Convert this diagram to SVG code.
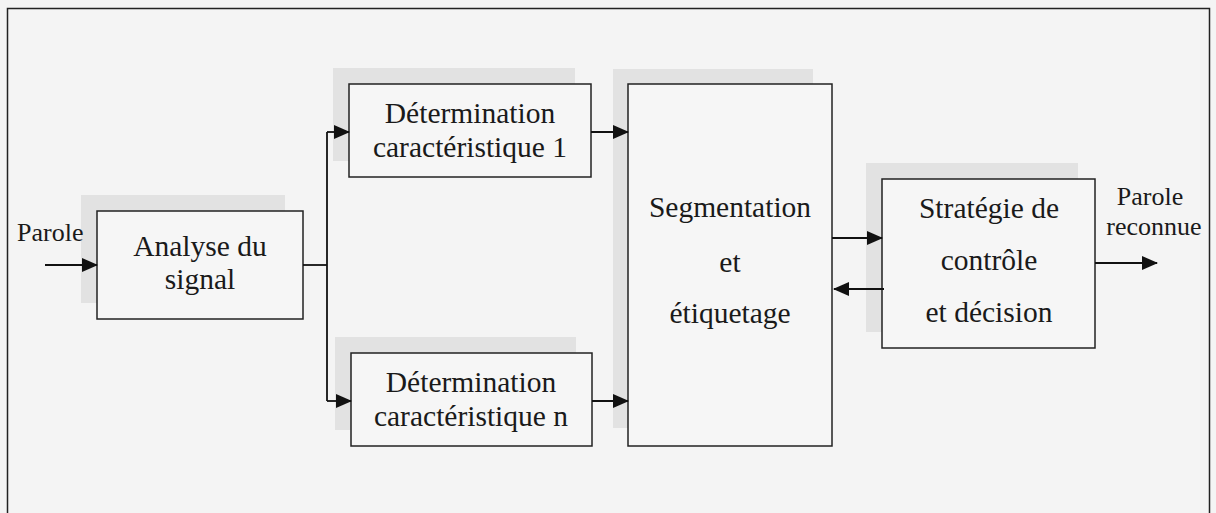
<svg xmlns="http://www.w3.org/2000/svg" width="1216" height="513" viewBox="0 0 1216 513">
<defs>
<marker id="ah" markerUnits="userSpaceOnUse" markerWidth="16" markerHeight="14" refX="15" refY="7" orient="auto">
<path d="M0,0 L16,7 L0,14 z" fill="#111"/>
</marker>
<style>
.box{fill:#f6f6f6;stroke:#222;stroke-width:1.5}
.sh{fill:#e2e2e2}
.t{font-family:"Liberation Serif","Times New Roman",serif;font-size:29.5px;fill:#1a1a1a;text-anchor:middle}
.lab{font-family:"Liberation Serif","Times New Roman",serif;font-size:26px;fill:#1a1a1a}
.c{fill:none;stroke:#111;stroke-width:1.8}
</style>
</defs>
<rect x="0" y="0" width="1216" height="513" fill="#f4f4f4"/>
<path d="M7.5,520 V8.5 H1209.5 V520" fill="none" stroke="#222" stroke-width="1.5"/>

<g id="analyse">
<rect class="sh" x="81" y="195" width="204" height="108"/>
<rect class="box" x="97" y="211" width="206" height="108"/>
<text class="t" x="200" y="256">Analyse du</text>
<text class="t" x="200" y="289">signal</text>
</g>

<g id="det1">
<rect class="sh" x="333" y="68" width="242" height="93"/>
<rect class="box" x="349" y="84" width="242" height="93"/>
<text class="t" x="470" y="123">Détermination</text>
<text class="t" x="470" y="157">caractéristique 1</text>
</g>

<g id="detn">
<rect class="sh" x="335" y="337" width="241" height="93"/>
<rect class="box" x="351" y="353" width="241" height="93"/>
<text class="t" x="471" y="392">Détermination</text>
<text class="t" x="471" y="426">caractéristique n</text>
</g>

<g id="segmentation">
<rect class="sh" x="613" y="69" width="200" height="359"/>
<rect class="box" x="628" y="84" width="204" height="362"/>
<text class="t" x="730" y="217">Segmentation</text>
<text class="t" x="730" y="272">et</text>
<text class="t" x="730" y="323">étiquetage</text>
</g>

<g id="strategie">
<rect class="sh" x="866" y="163" width="212" height="169"/>
<rect class="box" x="882" y="179" width="213" height="169"/>
<text class="t" x="989" y="218">Stratégie de</text>
<text class="t" x="989" y="270">contrôle</text>
<text class="t" x="989" y="322">et décision</text>
</g>

<g id="labels">
<text class="lab" x="17" y="241">Parole</text>
<text class="lab" x="1150" y="205" text-anchor="middle">Parole</text>
<text class="lab" x="1154" y="235" text-anchor="middle">reconnue</text>
</g>

<g id="connectors">
<path class="c" d="M45,265 H97" marker-end="url(#ah)"/>
<path class="c" d="M303,265 H327"/>
<path class="c" d="M327,132 V401"/>
<path class="c" d="M327,132 H349" marker-end="url(#ah)"/>
<path class="c" d="M327,401 H351" marker-end="url(#ah)"/>
<path class="c" d="M591,132 H628" marker-end="url(#ah)"/>
<path class="c" d="M592,401 H628" marker-end="url(#ah)"/>
<path class="c" d="M832,238 H882" marker-end="url(#ah)"/>
<path class="c" d="M884,289 H834" marker-end="url(#ah)"/>
<path class="c" d="M1095,263 H1157" marker-end="url(#ah)"/>
</g>
</svg>
